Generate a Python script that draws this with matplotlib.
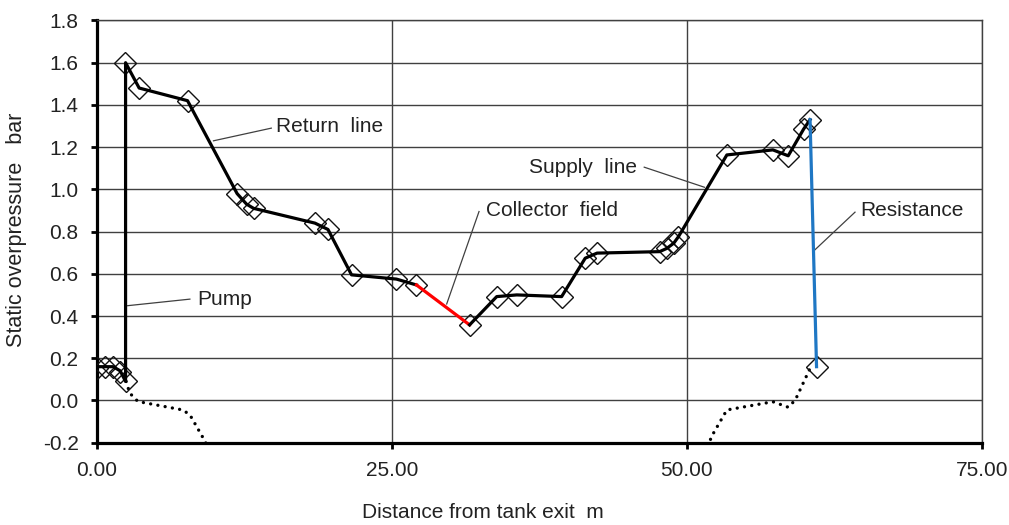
import matplotlib.pyplot as plt

plt.rcParams['font.family'] = ['Liberation Sans', 'DejaVu Sans']

# measured pressure along the loop (distance m, overpressure bar)
return_x = [0.0, 0.7, 1.4, 2.0, 2.45, 2.45, 3.6, 7.7, 11.9, 12.7, 13.3, 18.5, 19.6, 21.6, 25.4, 27.1]
return_p = [0.16, 0.16, 0.16, 0.14, 0.09, 1.60, 1.48, 1.42, 0.98, 0.93, 0.91, 0.84, 0.81, 0.595, 0.575, 0.547]

collector_x = [27.1, 31.6]
collector_p = [0.547, 0.358]

supply_x = [31.6, 33.9, 35.6, 39.4, 41.4, 42.4, 47.7, 48.3, 48.9, 49.3, 53.4, 57.3, 58.6, 59.9, 60.45]
supply_p = [0.358, 0.492, 0.50, 0.492, 0.674, 0.698, 0.705, 0.72, 0.745, 0.776, 1.163, 1.187, 1.159, 1.285, 1.33]

resist_x = [60.45, 61.0]
resist_p = [1.33, 0.16]

marker_x = [0.0, 0.7, 1.4, 2.0, 2.5, 2.4, 3.6, 7.7, 11.9, 12.7, 13.3, 18.5, 19.6, 21.6, 25.4, 27.1,
            31.6, 33.9, 35.6, 39.4, 41.4, 42.4, 47.7, 48.3, 48.9, 49.3, 53.4, 57.3, 58.6, 59.9, 60.45, 61.0]
marker_p = [0.155, 0.16, 0.16, 0.135, 0.09, 1.60, 1.48, 1.42, 0.98, 0.93, 0.91, 0.84, 0.81, 0.595, 0.575, 0.547,
            0.358, 0.492, 0.50, 0.492, 0.674, 0.698, 0.705, 0.72, 0.745, 0.776, 1.163, 1.187, 1.159, 1.285, 1.33, 0.16]

# terrain / pipe elevation (dotted)
ground1_x = [2.5, 2.8, 3.5, 7.3, 7.9, 9.2, 9.6]
ground1_p = [0.09, 0.035, -0.005, -0.045, -0.068, -0.195, -0.25]
ground2_x = [51.6, 52.1, 53.4, 57.3, 58.6, 59.2, 60.6]
ground2_p = [-0.25, -0.171, -0.045, -0.006, -0.032, 0.002, 0.17]

fig = plt.figure(figsize=(10.09, 5.25), dpi=100)
ax = fig.add_axes([0.0958, 0.1568, 0.8772, 0.8042])

dots = dict(color='black', lw=2.4, linestyle=(0, (0.01, 2.2)), dash_capstyle='round')
ax.plot(ground1_x, ground1_p, **dots)
ax.plot(ground2_x, ground2_p, **dots)

ax.plot(marker_x, marker_p, linestyle='none', marker='D', ms=11,
        mfc='none', mec='#111111', mew=1.0, zorder=3)

ax.plot(return_x, return_p, color='black', lw=2.3, zorder=4)
ax.plot(collector_x, collector_p, color='#ff0000', lw=2.3, zorder=4)
ax.plot(supply_x, supply_p, color='black', lw=2.3, zorder=4)
ax.plot(resist_x, resist_p, color='#1f77c4', lw=2.3, zorder=4)

# labels with leader lines
notes = [
    ('Return  line', (15.2, 1.296), (9.9, 1.23), (14.8, 1.29)),
    ('Pump', (8.5, 0.48), (2.63, 0.449), (7.9, 0.48)),
    ('Collector  field', (32.95, 0.898), (29.66, 0.457), (32.4, 0.895)),
    ('Supply  line', (36.6, 1.105), (51.5, 1.01), (46.4, 1.105)),
    ('Resistance', (64.7, 0.898), (60.7, 0.705), (64.26, 0.892)),
]
for txt, pos, p0, p1 in notes:
    ax.plot([p0[0], p1[0]], [p0[1], p1[1]], color='#404040', lw=0.9, zorder=2)
    ax.text(pos[0], pos[1], txt, fontsize=15, color='#222222', va='center', ha='left')

ax.set_xlim(0, 75)
ax.set_ylim(-0.2, 1.8)
ax.set_xticks([0, 25, 50, 75])
ax.set_xticklabels(['0.00', '25.00', '50.00', '75.00'])
ax.set_yticks([-0.2 + 0.2 * i for i in range(11)])
ax.set_yticklabels([f'{-0.2 + 0.2 * i:.1f}' for i in range(11)])
ax.tick_params(labelsize=15, labelcolor='#222222', length=4, width=2, direction='out', pad=9)

ax.grid(True, color='#404040', lw=1.0)
ax.set_axisbelow(True)
for side in ['top', 'right']:
    ax.spines[side].set_linewidth(1.0)
    ax.spines[side].set_color('#404040')
for side in ['left', 'bottom']:
    ax.spines[side].set_linewidth(2.3)

ax.set_xlabel('Distance from tank exit  m', fontsize=15, color='#222222')
ax.set_ylabel('Static overpressure   bar', fontsize=15.5, color='#222222')
ax.xaxis.set_label_coords(0.4365, -0.143, transform=ax.transAxes)
ax.yaxis.set_label_coords(-0.079, 0.503, transform=ax.transAxes)

fig.savefig('out.png', dpi=100)
